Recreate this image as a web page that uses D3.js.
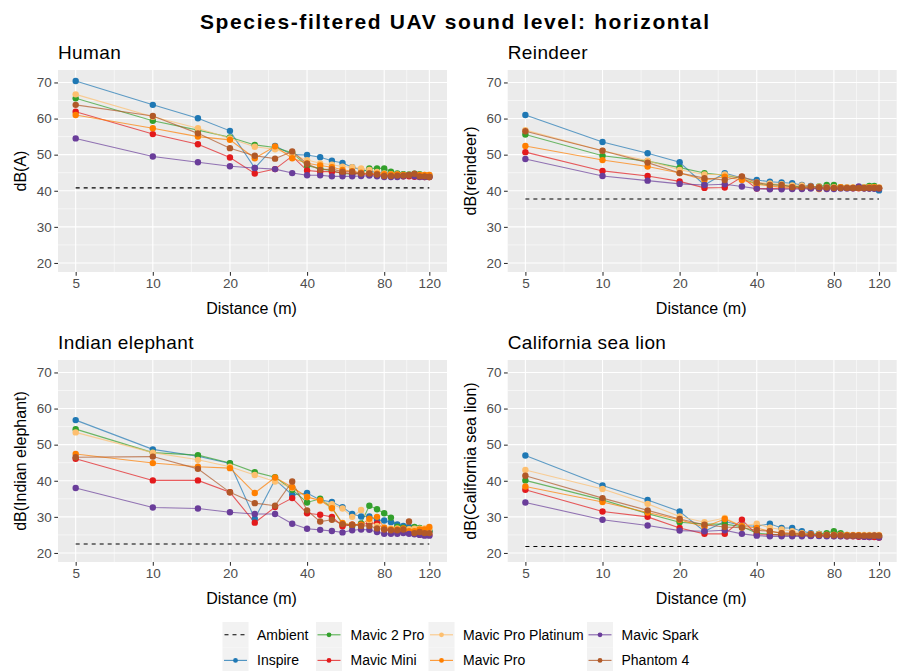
<!DOCTYPE html>
<html><head><meta charset="utf-8">
<script src="https://cdn.jsdelivr.net/npm/d3@7"></script>
<style>
body{margin:0;background:#fff;}
text{font-family:"Liberation Sans",Arial,sans-serif;}
</style></head>
<body><svg id="chart" width="903" height="671"></svg>
<script>
// ---------------- DATA ----------------
const distances = [5,10,15,20,25,30,35,40,45,50,55,60,65,70,75,80,85,90,95,100,105,110,115,120];
const drones = ["Inspire","Mavic 2 Pro","Mavic Mini","Mavic Pro Platinum","Mavic Pro","Mavic Spark","Phantom 4"];
const droneColors = ["#1f78b4","#33a02c","#e31a1c","#fdbf6f","#ff7f00","#6a3d9a","#b15928"];
const panelTitles = ["Human","Reindeer","Indian elephant","California sea lion"];
const yTitles = ["dB(A)","dB(reindeer)","dB(Indian elephant)","dB(California sea lion)"];
const ambient = [40.8, 37.7, 22.5, 21.8];
const xTicks = [5,10,20,40,80,120];
const yTicks = [20,30,40,50,60,70];

const human = [
 [70.4,63.8,60.1,56.6,46.3,52.4,50.0,49.9,49.3,48.3,47.7,46.5,45.8,45.4,45.1,45.0,44.8,44.6,44.5,44.4,44.3,44.2,44.1,44.0],
 [65.6,59.4,56.8,54.8,52.7,52.0,50.5,46.9,46.2,45.5,44.8,44.6,44.9,46.2,46.2,46.2,45.3,44.8,44.6,44.5,44.7,44.6,44.2,44.2],
 [61.9,55.7,52.9,49.2,44.8,46.0,49.6,45.6,45.3,45.3,45.0,44.8,44.6,44.5,44.4,44.3,44.2,44.1,44.0,44.0,43.9,43.9,43.8,43.8],
 [66.7,60.5,57.3,54.5,52.2,51.5,50.0,48.5,47.6,47.2,46.7,46.5,46.2,45.8,45.2,44.8,44.6,44.5,44.4,44.4,44.4,44.4,44.4,44.4],
 [61.0,57.3,55.0,54.1,49.0,52.3,49.0,47.6,47.0,46.5,45.8,45.4,45.0,44.8,44.7,44.6,44.5,44.5,44.4,44.4,44.4,44.4,44.4,44.4],
 [54.5,49.5,47.9,46.8,46.3,46.0,44.9,44.3,44.3,44.0,44.0,44.0,44.1,44.2,44.0,43.8,43.8,43.8,44.0,44.3,44.0,43.8,43.8,43.8],
 [63.8,60.7,55.9,51.8,49.7,48.9,50.9,47.5,45.8,46.0,45.3,45.3,44.8,44.8,44.5,44.1,44.1,44.2,44.2,44.3,44.7,44.0,44.0,43.8]
];
const reindeer = [
 [61.0,53.5,50.4,47.9,41.6,44.9,43.5,43.0,42.5,42.3,42.1,41.6,41.3,41.0,41.0,41.0,40.9,40.9,40.8,40.8,40.7,40.7,40.6,40.1],
 [55.6,49.7,48.2,46.4,44.9,44.3,43.5,41.9,41.8,41.5,41.3,41.0,41.0,41.2,41.6,41.6,41.0,40.8,40.8,40.8,41.0,41.3,41.3,40.8],
 [50.7,45.5,44.1,42.6,40.8,40.9,43.8,40.6,40.6,40.7,40.7,40.7,40.8,40.8,40.8,40.8,40.8,40.8,40.7,40.7,40.7,40.7,40.7,40.7],
 [56.8,51.1,48.3,45.8,44.5,44.5,43.5,42.3,42.0,41.8,41.5,41.5,41.2,41.1,41.0,41.0,41.0,41.0,41.0,41.0,41.0,41.0,41.0,41.0],
 [52.4,48.5,46.7,44.9,43.0,43.9,43.0,41.8,41.3,41.0,41.0,40.8,40.8,40.5,40.7,40.8,41.0,40.8,40.8,40.8,40.8,40.9,41.0,40.7],
 [48.8,44.1,42.8,41.9,41.6,41.8,41.2,40.6,40.4,40.4,40.5,40.5,40.6,40.6,40.5,40.5,40.6,40.6,40.7,41.2,40.7,40.6,40.6,40.6],
 [56.5,51.1,47.8,44.9,43.5,43.0,44.0,42.3,41.6,41.6,41.0,41.0,41.2,41.0,40.9,40.8,40.8,40.8,40.8,40.8,40.8,40.8,40.8,40.8]
];
const elephant = [
 [56.8,48.7,46.8,44.8,29.5,40.3,36.1,36.6,34.7,34.1,32.7,30.8,30.1,30.1,29.1,29.0,28.5,27.9,27.5,27.2,26.8,26.5,26.2,26.0],
 [54.3,47.8,47.1,44.9,42.4,41.0,37.5,34.0,35.0,32.6,28.0,27.5,28.2,33.1,32.1,31.0,29.8,27.3,27.0,26.5,27.2,26.9,26.5,26.0],
 [46.1,40.1,40.1,36.8,28.4,32.7,35.2,31.0,30.6,30.0,27.4,27.8,27.8,28.3,28.2,26.6,26.2,26.0,25.8,25.6,25.4,25.2,25.0,25.0],
 [53.4,47.8,45.8,43.9,41.6,39.8,38.0,35.5,34.4,33.5,32.3,30.0,31.9,29.0,27.5,27.0,26.8,26.8,26.6,26.6,26.7,26.7,26.8,26.8],
 [47.4,44.9,43.9,43.5,36.6,40.9,38.2,35.5,34.6,32.4,28.3,27.8,27.8,29.5,30.0,27.0,26.5,26.5,26.8,26.0,26.0,26.5,26.5,27.2],
 [38.0,32.6,32.3,31.3,30.8,30.8,28.1,26.7,26.4,26.1,25.7,26.3,26.5,26.4,25.8,25.3,25.3,25.3,25.5,25.3,25.2,25.0,24.8,24.8],
 [46.5,46.7,43.3,36.8,33.8,33.1,39.8,31.8,28.7,29.2,28.0,27.8,27.5,27.5,26.8,26.5,26.3,26.3,26.5,28.7,25.5,25.8,25.5,25.5]
];
const seaLion = [
 [47.0,38.7,34.7,31.5,26.0,28.7,27.6,27.4,28.1,26.9,26.9,26.0,25.5,25.3,25.2,25.0,25.0,24.9,24.8,24.8,24.7,24.6,24.5,24.5],
 [40.1,34.7,30.9,28.5,28.0,28.0,27.3,25.5,25.2,25.0,25.0,25.0,25.0,25.3,25.5,26.0,25.5,25.0,24.8,24.8,24.8,24.8,24.8,24.8],
 [37.5,31.5,30.0,26.9,25.3,25.3,29.2,25.1,25.0,25.0,24.9,24.9,24.8,24.8,24.8,24.7,24.7,24.6,24.6,24.5,24.5,24.4,24.4,24.3],
 [43.0,37.7,33.6,30.1,28.5,29.7,27.5,28.1,27.0,26.5,26.0,25.5,25.3,25.2,25.0,25.0,25.0,25.0,25.0,25.0,25.0,25.0,25.0,25.0],
 [38.4,34.1,31.2,29.2,27.2,29.4,27.4,26.9,26.0,25.5,25.3,25.3,25.2,25.0,25.0,25.0,25.0,24.9,24.9,24.9,24.8,24.8,24.8,24.8],
 [34.0,29.2,27.6,26.2,26.0,26.3,25.3,24.8,24.6,24.6,24.6,24.6,24.7,24.7,24.6,24.6,24.6,24.6,24.7,24.6,24.5,24.4,24.8,24.3],
 [41.4,35.2,31.8,29.4,27.8,27.2,27.0,26.3,26.0,25.5,25.5,25.3,25.2,25.0,25.0,24.9,24.9,24.8,24.8,24.8,24.8,24.8,24.8,24.8]
];
const panelData = [human, reindeer, elephant, seaLion];
const legendItems = ["Ambient"].concat(drones);

// ---------------- LAYOUT ----------------
const svg = d3.select("#chart");
const panels = [
  {x0:58, x1:447, y0:70, y1:272},
  {x0:507.7, x1:896.7, y0:70, y1:272},
  {x0:58, x1:447, y0:360, y1:562},
  {x0:507.7, x1:896.7, y0:360, y1:562}
];

svg.append("text").attr("x", 200).attr("y", 29)
  .attr("font-size", 21).attr("font-weight","bold").attr("fill","#000")
  .attr("textLength", 509).attr("lengthAdjust","spacing")
  .text("Species-filtered UAV sound level: horizontal");

const lo = Math.log10(5), hi = Math.log10(120), pad = 0.05*(hi-lo);
const xMinor = [Math.sqrt(5*10), Math.sqrt(10*20), Math.sqrt(20*40), Math.sqrt(40*80), Math.sqrt(80*120)];
const yMinor = [25,35,45,55,65];

panels.forEach((p, i) => {
  const g = svg.append("g");
  const x = d3.scaleLog().domain([Math.pow(10, lo-pad), Math.pow(10, hi+pad)]).range([p.x0, p.x1]);
  const y = d3.scaleLinear().domain([17.5, 73.45]).range([p.y1, p.y0]);

  g.append("rect").attr("x", p.x0).attr("y", p.y0).attr("width", p.x1-p.x0).attr("height", p.y1-p.y0).attr("fill","#ebebeb");
  g.selectAll(".xmin").data(xMinor).join("line").attr("x1", d=>x(d)).attr("x2", d=>x(d))
    .attr("y1", p.y0).attr("y2", p.y1).attr("stroke","#fff").attr("stroke-width",0.55);
  g.selectAll(".ymin").data(yMinor).join("line").attr("y1", d=>y(d)).attr("y2", d=>y(d))
    .attr("x1", p.x0).attr("x2", p.x1).attr("stroke","#fff").attr("stroke-width",0.55);
  g.selectAll(".xmaj").data(xTicks).join("line").attr("x1", d=>x(d)).attr("x2", d=>x(d))
    .attr("y1", p.y0).attr("y2", p.y1).attr("stroke","#fff").attr("stroke-width",1.1);
  g.selectAll(".ymaj").data(yTicks).join("line").attr("y1", d=>y(d)).attr("y2", d=>y(d))
    .attr("x1", p.x0).attr("x2", p.x1).attr("stroke","#fff").attr("stroke-width",1.1);

  const xa = g.append("g").attr("transform", `translate(0,${p.y1})`)
    .call(d3.axisBottom(x).tickValues(xTicks).tickFormat(d3.format("d")).tickSize(3.7).tickPadding(3));
  const ya = g.append("g").attr("transform", `translate(${p.x0},0)`)
    .call(d3.axisLeft(y).tickValues(yTicks).tickSize(3.7).tickPadding(2.5));
  [xa, ya].forEach(a => {
    a.select(".domain").remove();
    a.selectAll(".tick line").attr("stroke","#333").attr("stroke-width",1.07);
    a.selectAll(".tick text").attr("fill","#4d4d4d").attr("font-size",13.5)
      .attr("font-family","'Liberation Sans',Arial,sans-serif");
  });

  g.append("text").attr("x", p.x0).attr("y", p.y0-11).attr("font-size",19).attr("letter-spacing",0.4)
    .attr("fill","#000").text(panelTitles[i]);
  g.append("text").attr("x", (x(5)+x(120))/2 - 1).attr("y", p.y1+42).attr("text-anchor","middle")
    .attr("font-size",16).attr("fill","#000").text("Distance (m)");
  g.append("text").attr("transform", `translate(${p.x0-32},${(p.y0+p.y1)/2}) rotate(-90)`)
    .attr("text-anchor","middle").attr("font-size",16).attr("fill","#000").text(yTitles[i]);

  g.append("line").attr("x1", x(5)).attr("x2", x(120)).attr("y1", y(ambient[i])).attr("y2", y(ambient[i]))
    .attr("stroke","#000").attr("stroke-width",1.1).attr("stroke-dasharray","4,4");

  const data = panelData[i];
  const line = d3.line().x((d,k)=>x(distances[k])).y(d=>y(d));
  data.forEach((vals, s) => {
    g.append("path").attr("d", line(vals)).attr("fill","none")
      .attr("stroke", droneColors[s]).attr("stroke-width",1.1).attr("stroke-opacity",0.7);
  });
  data.forEach((vals, s) => {
    g.selectAll(null).data(vals).join("circle")
      .attr("cx", (d,k)=>x(distances[k])).attr("cy", d=>y(d)).attr("r", 3.2)
      .attr("fill", droneColors[s]);
  });
});

// ---------------- LEGEND ----------------
const colX = [222.5, 316, 428.5, 587];
const rowY = [622, 647.6];
const keyW = 26, keyH = 25.6;
legendItems.forEach((name, idx) => {
  const c = Math.floor(idx/2), r = idx % 2;
  const kx = colX[c], ky = rowY[r];
  const g = svg.append("g");
  g.append("rect").attr("x", kx).attr("y", ky).attr("width", keyW).attr("height", keyH).attr("fill","#f2f2f2");
  const cy = ky + keyH/2;
  if (name === "Ambient") {
    g.append("line").attr("x1", kx+2).attr("x2", kx+keyW-2).attr("y1", cy).attr("y2", cy)
      .attr("stroke","#000").attr("stroke-width",1.1).attr("stroke-dasharray","4,4");
  } else {
    const col = droneColors[idx-1];
    g.append("line").attr("x1", kx+1.5).attr("x2", kx+keyW-1.5).attr("y1", cy).attr("y2", cy)
      .attr("stroke", col).attr("stroke-width",1.1).attr("stroke-opacity",0.8);
    g.append("circle").attr("cx", kx+keyW/2).attr("cy", cy).attr("r", 2.4).attr("fill", col);
  }
  g.append("text").attr("x", kx+34.5).attr("y", cy+5).attr("font-size",14).attr("fill","#000").text(name);
});
</script></body></html>
